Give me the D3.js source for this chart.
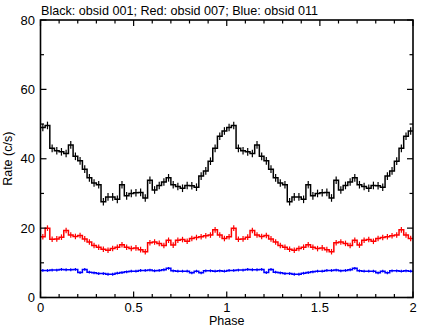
<!DOCTYPE html>
<html>
<head>
<meta charset="utf-8">
<script src="https://cdn.jsdelivr.net/npm/d3@7"></script>
<style>
  body { margin: 0; background: #fff; }
  text { font-family: "Liberation Sans", Arial, sans-serif; }
</style>
</head>
<body>
<svg width="426" height="327"></svg>
<script>
// folded light curves, 40 phase bins per cycle, shown twice
var nBins = 40;

var black = [49, 49.6, 43, 42.3, 42, 41.5, 44, 40.7, 39.4, 37, 34.5, 33, 32.5, 27.6,
  29, 29, 28.3, 32.5, 29.3, 30, 30.2, 30.3, 28.7, 33.8, 31, 32.3, 33.3, 34.5,
  32.5, 32, 31.5, 32.3, 32.2, 31.8, 35, 36.5, 39.3, 43, 46.5, 48];
var blackErr = 1.1;

var red = [17.5, 20, 16.8, 16.9, 17.4, 19.3, 18, 17.6, 17.9, 16.9, 16, 15, 14.5, 13.9,
  13.6, 14.1, 14.5, 15.2, 14.5, 14.1, 14.3, 13.8, 13.2, 15.8, 16, 15.6, 15, 16.5,
  15.1, 16.5, 16.7, 16.2, 17, 17.3, 17.5, 17.8, 18, 19.5, 18, 17];
var redErr = 0.8;

var blue = [7.8, 7.8, 7.9, 7.9, 8.1, 8.0, 8.0, 8.1, 7.2, 8.1, 7.3, 7.1, 6.9, 6.9,
  6.7, 6.7, 7.0, 7.2, 7.4, 7.6, 7.6, 7.8, 7.8, 7.9, 7.7, 7.8, 8.0, 8.4,
  7.7, 7.6, 7.6, 7.6, 7.1, 7.6, 7.1, 7.7, 7.7, 7.6, 7.7, 7.6];
var blueErr = 0.4;

var title = "Black: obsid 001; Red: obsid 007; Blue: obsid 011";
var xTicks = [0, 0.5, 1, 1.5, 2];
var yTicks = [0, 20, 40, 60, 80];

var svg = d3.select("svg");
var pL = 40.5, pR = 413, pT = 20, pB = 297.5;

var x = d3.scaleLinear().domain([0, 2]).range([pL, pR]);
var y = d3.scaleLinear().domain([0, 80]).range([pB, pT]);

function toBins(vals, err) {
  var out = [];
  for (var c = 0; c < 2; c++) {
    vals.forEach(function(v, i) {
      out.push({x0: c + i / nBins, x1: c + (i + 1) / nBins, v: v, e: err});
    });
  }
  return out;
}

var series = [
  {bins: toBins(blue, blueErr), color: "#0000ff"},
  {bins: toBins(red, redErr), color: "#ff0000"},
  {bins: toBins(black, blackErr), color: "#000000"}
];

var g = svg.append("g");

series.forEach(function(s) {
  var pts = [];
  s.bins.forEach(function(b) {
    pts.push([b.x0, b.v]);
    pts.push([b.x1, b.v]);
  });
  var line = d3.line()
      .x(function(d) { return x(d[0]); })
      .y(function(d) { return y(d[1]); });
  g.append("path")
      .attr("d", line(pts))
      .attr("fill", "none")
      .attr("stroke", s.color)
      .attr("stroke-width", 1.5);
  g.selectAll(null)
    .data(s.bins)
    .enter().append("line")
      .attr("x1", function(d) { return x((d.x0 + d.x1) / 2); })
      .attr("x2", function(d) { return x((d.x0 + d.x1) / 2); })
      .attr("y1", function(d) { return y(d.v - d.e); })
      .attr("y2", function(d) { return y(d.v + d.e); })
      .attr("stroke", s.color)
      .attr("stroke-width", 1.2);
});

// frame
svg.append("rect")
    .attr("x", pL).attr("y", pT)
    .attr("width", pR - pL).attr("height", pB - pT)
    .attr("fill", "none")
    .attr("stroke", "#000")
    .attr("stroke-width", 1.6);

// ticks (inward, all four sides)
var ax = svg.append("g").attr("stroke", "#000").attr("stroke-width", 1.2);
d3.range(0, 2.0001, 0.1).forEach(function(t) {
  var major = Math.abs(t * 2 - Math.round(t * 2)) < 1e-6;
  var len = major ? 6 : 3.5;
  ax.append("line").attr("x1", x(t)).attr("x2", x(t)).attr("y1", pB).attr("y2", pB - len);
  ax.append("line").attr("x1", x(t)).attr("x2", x(t)).attr("y1", pT).attr("y2", pT + len);
});
d3.range(0, 80.001, 10).forEach(function(t) {
  var major = t % 20 === 0;
  var len = major ? 6 : 3.5;
  ax.append("line").attr("x1", pL).attr("x2", pL + len).attr("y1", y(t)).attr("y2", y(t));
  ax.append("line").attr("x1", pR).attr("x2", pR - len).attr("y1", y(t)).attr("y2", y(t));
});

svg.selectAll(".xt")
  .data(xTicks)
  .enter().append("text")
    .attr("x", function(d) { return x(d); })
    .attr("y", 312)
    .attr("text-anchor", "middle")
    .style("font-size", "13px")
    .text(function(d) { return d; });

svg.selectAll(".yt")
  .data(yTicks)
  .enter().append("text")
    .attr("x", 35)
    .attr("y", function(d) { return y(d) + 4.5; })
    .attr("text-anchor", "end")
    .style("font-size", "13px")
    .text(function(d) { return d; });

svg.append("text")
    .attr("x", 41)
    .attr("y", 15)
    .style("font-size", "12.6px")
    .text(title);

svg.append("text")
    .attr("x", (pL + pR) / 2)
    .attr("y", 325)
    .attr("text-anchor", "middle")
    .style("font-size", "12.5px")
    .text("Phase");

svg.append("text")
    .attr("transform", "translate(12," + ((pT + pB) / 2) + ") rotate(-90)")
    .attr("text-anchor", "middle")
    .style("font-size", "12.5px")
    .text("Rate (c/s)");
</script>
</body>
</html>
